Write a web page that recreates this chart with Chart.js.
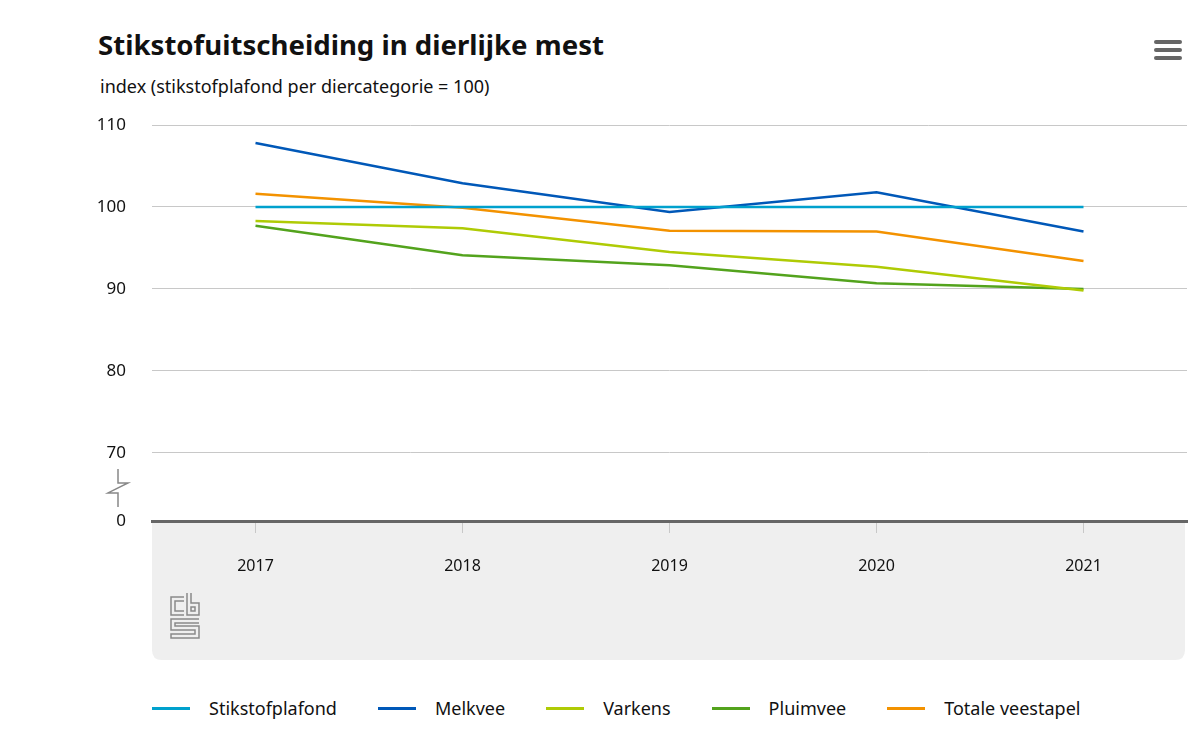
<!DOCTYPE html>
<html>
<head>
<meta charset="utf-8">
<script src="https://cdn.jsdelivr.net/npm/chart.js@4"></script>
<style>
  body { margin: 0; background: #fff; font-family: "Noto Sans", sans-serif; }
  #wrap { position: relative; width: 1200px; height: 746px; overflow: hidden; }
  #title { position: absolute; left: 98px; top: 25px; font-size: 27.6px; font-weight: bold; color: #111; }
  #subtitle { position: absolute; left: 100px; top: 74px; font-size: 18px; color: #111; }
  #menu { position: absolute; left: 1154px; top: 40px; width: 28px; }
  #menu div { height: 4px; background: #666; border-radius: 2px; margin-bottom: 4px; }
  #chartBox { position: absolute; left: 0; top: 100px; width: 1200px; height: 560px; }
  #legend { position: absolute; left: 152px; top: 696px; display: flex; font-size: 18px; color: #111; }
  .item { display: flex; align-items: center; margin-right: 41px; }
  .swatch { width: 38px; height: 3px; margin-right: 19px; }
</style>
</head>
<body>
<div id="wrap">
  <div id="title">Stikstofuitscheiding in dierlijke mest</div>
  <div id="subtitle">index (stikstofplafond per diercategorie = 100)</div>
  <div id="menu"><div></div><div></div><div></div></div>
  <div id="chartBox"><canvas id="lineChart"></canvas></div>
  <div id="legend"></div>
</div>
<script>
// Data
const years = ['2017', '2018', '2019', '2020', '2021'];
const stikstofplafond = [100, 100, 100, 100, 100];
const melkvee = [107.8, 102.9, 99.4, 101.8, 97.0];
const varkens = [98.3, 97.4, 94.5, 92.7, 89.8];
const pluimvee = [97.7, 94.1, 92.9, 90.7, 90.0];
const totaleVeestapel = [101.6, 99.9, 97.1, 97.0, 93.4];
const yTicks = [70, 80, 90, 100, 110];
const yBreakMin = 61.7; // axis bottom, labelled as 0 (broken axis)

const series = [
   { label: 'Stikstofplafond', data: stikstofplafond, color: '#00a1cd' },
   { label: 'Melkvee', data: melkvee, color: '#0058b8' },
   { label: 'Varkens', data: varkens, color: '#afcb05' },
   { label: 'Pluimvee', data: pluimvee, color: '#53a31d' },
   { label: 'Totale veestapel', data: totaleVeestapel, color: '#f39200' }
];

// Grey panel under the x axis, axis break and logo
const decorations = {
   id: 'decorations',
   beforeDraw(chart) {
       const { ctx, chartArea } = chart;
       const top = chartArea.bottom, bottom = chart.height, l = chartArea.left, r = chartArea.right - 2, rad = 10;
       ctx.save();
       ctx.fillStyle = '#efefef';
       ctx.beginPath();
       ctx.moveTo(l, top);
       ctx.lineTo(r, top);
       ctx.lineTo(r, bottom - rad);
       ctx.quadraticCurveTo(r, bottom, r - rad, bottom);
       ctx.lineTo(l + rad, bottom);
       ctx.quadraticCurveTo(l, bottom, l, bottom - rad);
       ctx.closePath();
       ctx.fill();

       // cbs logo
       ctx.strokeStyle = '#8a8a8a';
       ctx.lineWidth = 1.5;
       const oy = top + 76;
       ctx.beginPath();
       // c
       ctx.moveTo(184, oy); ctx.lineTo(171, oy); ctx.lineTo(171, oy + 18); ctx.lineTo(184, oy + 18);
       ctx.moveTo(184, oy + 4); ctx.lineTo(175, oy + 4); ctx.lineTo(175, oy + 14); ctx.lineTo(184, oy + 14);
       // b
       ctx.moveTo(187, oy - 4); ctx.lineTo(187, oy + 18); ctx.lineTo(199, oy + 18); ctx.lineTo(199, oy + 6); ctx.lineTo(191, oy + 6); ctx.lineTo(191, oy - 4);
       ctx.moveTo(191, oy + 10); ctx.lineTo(195, oy + 10); ctx.lineTo(195, oy + 14); ctx.lineTo(191, oy + 14); ctx.closePath();
       // s
       ctx.moveTo(199, oy + 22); ctx.lineTo(171, oy + 22); ctx.lineTo(171, oy + 33); ctx.lineTo(195, oy + 33); ctx.lineTo(195, oy + 37); ctx.lineTo(171, oy + 37); ctx.lineTo(171, oy + 41); ctx.lineTo(199, oy + 41); ctx.lineTo(199, oy + 29); ctx.lineTo(175, oy + 29); ctx.lineTo(175, oy + 26); ctx.lineTo(199, oy + 26);
       ctx.stroke();
       ctx.restore();
   },
   afterDraw(chart) {
       const { ctx } = chart;
       const y = chart.scales.y;
       const y70 = y.getPixelForValue(70), y0 = y.getPixelForValue(yBreakMin);
       const x = 118;
       ctx.save();
       ctx.strokeStyle = '#888';
       ctx.lineWidth = 1.5;
       ctx.beginPath();
       ctx.moveTo(x, y70 + 16);
       ctx.lineTo(x, y70 + 30);
       ctx.lineTo(x + 10, y70 + 30);
       ctx.lineTo(x - 10, y70 + 40);
       ctx.lineTo(x, y70 + 40);
       ctx.lineTo(x, y0 - 14);
       ctx.stroke();
       ctx.restore();
   }
};

const ctx = document.getElementById('lineChart').getContext('2d');
const chart = new Chart(ctx, {
   type: 'line',
   data: {
       labels: years,
       datasets: series.map(s => ({
           label: s.label,
           data: s.data,
           borderColor: s.color,
           backgroundColor: s.color,
           borderWidth: 2.5,
           pointRadius: 0,
           tension: 0
       }))
   },
   options: {
       responsive: true,
       maintainAspectRatio: false,
       animation: false,
       layout: { padding: { top: 25, right: 13, left: 0, bottom: 0 } },
       plugins: {
           legend: { display: false },
           tooltip: { enabled: false }
       },
       scales: {
           x: {
               offset: true,
               grid: { drawOnChartArea: false, drawTicks: true, tickLength: 12, offset: false, color: '#c8c8c8' },
               border: { display: true, color: '#666', width: 3 },
               ticks: { color: '#111', font: { family: 'Noto Sans', size: 16 }, padding: 24 },
               afterFit(scale) { scale.height = 139; scale.paddingLeft = 0; scale.paddingRight = 0; }
           },
           y: {
               min: yBreakMin,
               max: 110,
               afterBuildTicks(scale) {
                   scale.ticks = [yBreakMin, ...yTicks].map(v => ({ value: v }));
               },
               grid: {
                   drawTicks: false,
                   color: c => c.tick.value < 65 ? 'rgba(0,0,0,0)' : '#c8c8c8',
                   lineWidth: 1
               },
               border: { display: false },
               ticks: {
                   color: '#111',
                   font: { family: 'Noto Sans', size: 17 },
                   padding: 26,
                   callback: v => v < 65 ? '0' : v
               },
               afterFit(scale) { scale.width = 152; scale.paddingTop = 0; scale.paddingBottom = 0; }
           }
       }
   },
   plugins: [decorations]
});

// Legend built from the datasets
const legend = document.getElementById('legend');
series.forEach(s => {
   const item = document.createElement('div');
   item.className = 'item';
   item.innerHTML = '<span class="swatch" style="background:' + s.color + '"></span>' + s.label;
   legend.appendChild(item);
});
</script>
</body>
</html>
